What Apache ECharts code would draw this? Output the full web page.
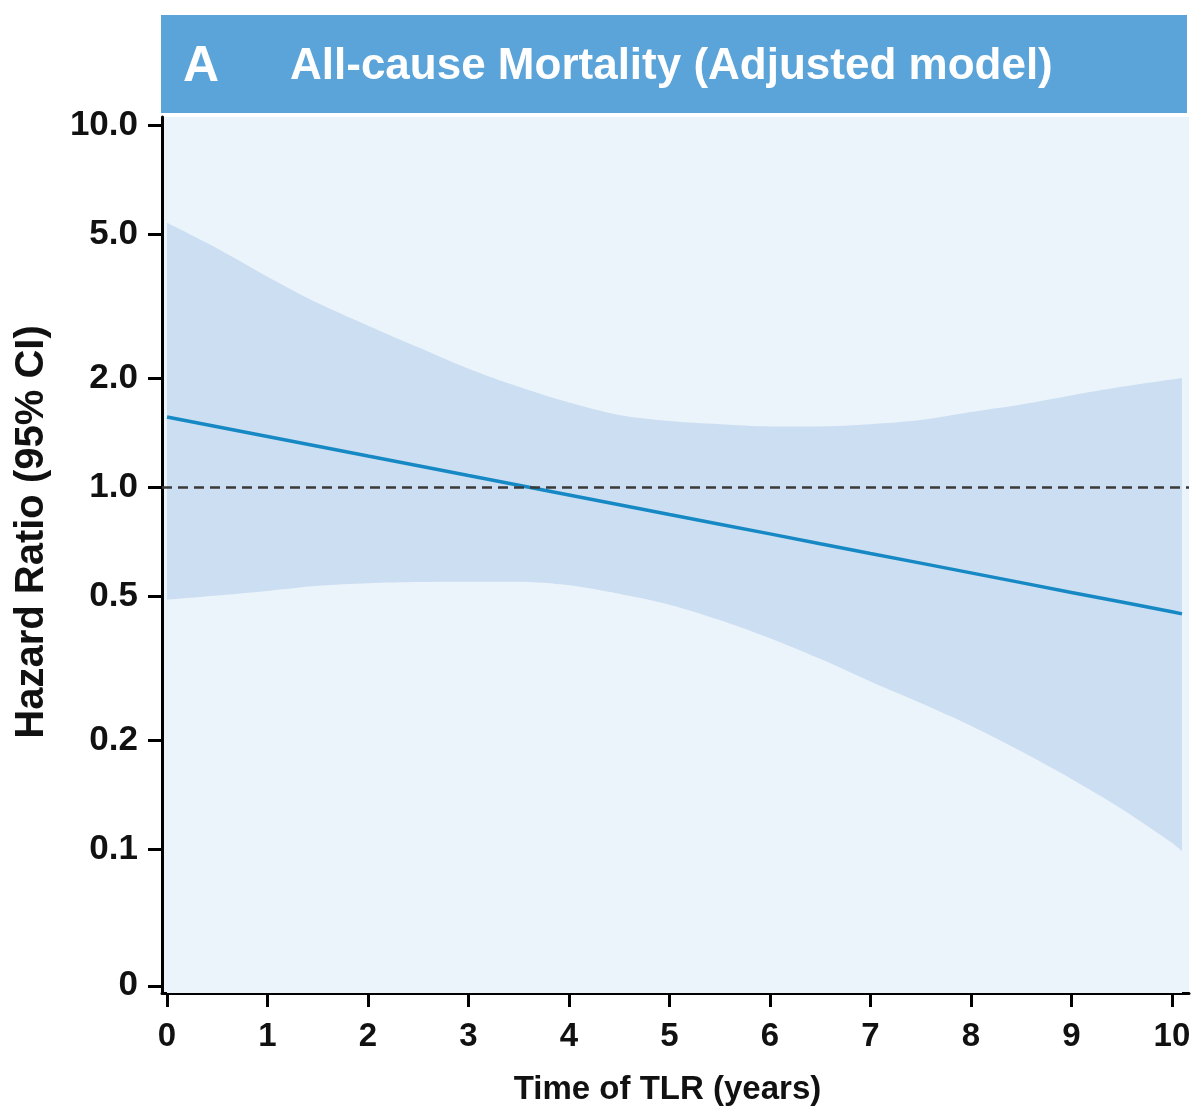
<!DOCTYPE html>
<html>
<head>
<meta charset="utf-8">
<script src="https://cdn.jsdelivr.net/npm/echarts@6/dist/echarts.min.js"></script>
<style>
  html, body { margin: 0; padding: 0; background: #ffffff; }
  #chart { width: 1204px; height: 1118px; }
</style>
</head>
<body>
<div id="chart"></div>
<script>
// ---- Data ----
const years = [0, 0.5, 1, 1.5, 2, 2.5, 3, 3.5, 4, 4.5, 5, 5.5, 6, 6.5, 7, 7.5, 8, 8.5, 9, 9.5, 10, 10.1];
const hazardRatio = [1.560, 1.466, 1.378, 1.295, 1.217, 1.144, 1.075, 1.011, 0.950, 0.893, 0.839, 0.789, 0.742, 0.697, 0.655, 0.616, 0.579, 0.544, 0.511, 0.481, 0.452, 0.446];
const ciUpper = [5.37, 4.56, 3.81, 3.22, 2.79, 2.43, 2.12, 1.89, 1.71, 1.58, 1.52, 1.49, 1.47, 1.47, 1.49, 1.53, 1.61, 1.69, 1.79, 1.89, 1.98, 2.00];
const ciLower = [0.488, 0.501, 0.516, 0.533, 0.542, 0.546, 0.547, 0.547, 0.535, 0.507, 0.473, 0.429, 0.382, 0.335, 0.290, 0.253, 0.219, 0.186, 0.156, 0.129, 0.104, 0.0986];
const referenceHR = 1.0;

const yTickValues = [10, 5, 2, 1, 0.5, 0.2, 0.1];
const yTickLabels = ['10.0', '5.0', '2.0', '1.0', '0.5', '0.2', '0.1'];
const yZeroLabel = '0';
const xTickValues = [0, 1, 2, 3, 4, 5, 6, 7, 8, 9, 10];

const panelLetter = 'A';
const panelTitle = 'All-cause Mortality (Adjusted model)';
const yAxisTitle = 'Hazard Ratio (95% CI)';
const xAxisTitle = 'Time of TLR (years)';

// ---- Chart ----
const FONT = 'Arial, "Liberation Sans", Helvetica, sans-serif';
const PLOT_BG = '#EBF3FB';
const BAND = '#CCDEF1';
const lg = v => Math.log10(v);
const yMin = -1.398, yMax = 1.022;      // axis extent in log10 space
const yZeroPos = -1.378;                 // where the "0" floor label sits
const yTicks = yTickValues.map(lg).concat([yZeroPos]);

function yLabel(v) {
  for (let i = 0; i < yTickValues.length; i++) {
    if (Math.abs(lg(yTickValues[i]) - v) < 1e-6) return yTickLabels[i];
  }
  if (Math.abs(v - yZeroPos) < 1e-6) return yZeroLabel;
  return '';
}

const upperData = years.map((t, i) => [t, lg(ciUpper[i])]);
const lowerData = years.map((t, i) => [t, lg(ciLower[i])]);
const hrData = years.map((t, i) => [t, lg(hazardRatio[i])]);

const chart = echarts.init(document.getElementById('chart'), null, { renderer: 'canvas' });
chart.setOption({
  animation: false,
  backgroundColor: '#ffffff',
  graphic: [
    { type: 'rect', shape: { x: 161, y: 15, width: 1026, height: 98 }, style: { fill: '#5BA4D9' }, z: 0 },
    { type: 'text', x: 183, y: 67, z: 1,
      style: { text: panelLetter, fill: '#ffffff', fontSize: 50, fontWeight: 'bold', fontFamily: FONT, verticalAlign: 'middle' } },
    { type: 'text', x: 290, y: 67, z: 1,
      style: { text: panelTitle, fill: '#ffffff', fontSize: 44, fontWeight: 'bold', fontFamily: FONT, verticalAlign: 'middle' } }
  ],
  grid: {
    left: 162, right: 15, top: 117, bottom: 125,
    show: true, backgroundColor: PLOT_BG, borderWidth: 0
  },
  xAxis: {
    type: 'value', min: -0.05, max: 10.17,
    name: xAxisTitle, nameLocation: 'middle', nameGap: 80,
    nameTextStyle: { fontSize: 33, fontWeight: 'bold', color: '#111', fontFamily: FONT, padding: [0, 16, 0, 0] },
    axisLine: { show: true, onZero: false, lineStyle: { color: '#000', width: 3 } },
    axisTick: { show: true, customValues: xTickValues, length: 14, lineStyle: { color: '#000', width: 3 } },
    axisLabel: { customValues: xTickValues, fontSize: 33, fontWeight: 'bold', color: '#111', fontFamily: FONT, margin: 27 },
    splitLine: { show: false }
  },
  yAxis: {
    type: 'value', min: yMin, max: yMax,
    name: yAxisTitle, nameLocation: 'middle', nameRotate: 90, nameGap: 110,
    nameTextStyle: { fontSize: 40, fontWeight: 'bold', color: '#111', fontFamily: FONT, padding: [0, 0, 0, 46] },
    axisLine: { show: true, onZero: false, lineStyle: { color: '#000', width: 3 } },
    axisTick: { show: true, customValues: yTicks, length: 14, lineStyle: { color: '#000', width: 3 } },
    axisLabel: { customValues: yTicks, formatter: yLabel, fontSize: 35, fontWeight: 'bold', color: '#111', fontFamily: FONT, margin: 24 },
    splitLine: { show: false }
  },
  series: [
    {
      // upper CI bound: filled down to the axis floor with the band colour
      name: '95% CI upper', type: 'line', data: upperData,
      smooth: 0.3, symbol: 'none', silent: true,
      lineStyle: { width: 0, opacity: 0 },
      areaStyle: { color: BAND, opacity: 1, origin: 'start' }, z: 1
    },
    {
      // lower CI bound: area below it restored to the plot background
      name: '95% CI lower', type: 'line', data: lowerData,
      smooth: 0.3, symbol: 'none', silent: true,
      lineStyle: { width: 0, opacity: 0 },
      areaStyle: { color: PLOT_BG, opacity: 1, origin: 'start' }, z: 2
    },
    {
      name: 'Hazard ratio', type: 'line', data: hrData,
      symbol: 'none', silent: true,
      lineStyle: { color: '#1689C5', width: 3.5 }, z: 3,
      markLine: {
        silent: true, symbol: ['none', 'none'], label: { show: false },
        lineStyle: { type: [10, 6], color: '#3a3a3a', width: 2.5 },
        data: [{ yAxis: lg(referenceHR) }], z: 4
      }
    }
  ]
});
</script>
</body>
</html>
